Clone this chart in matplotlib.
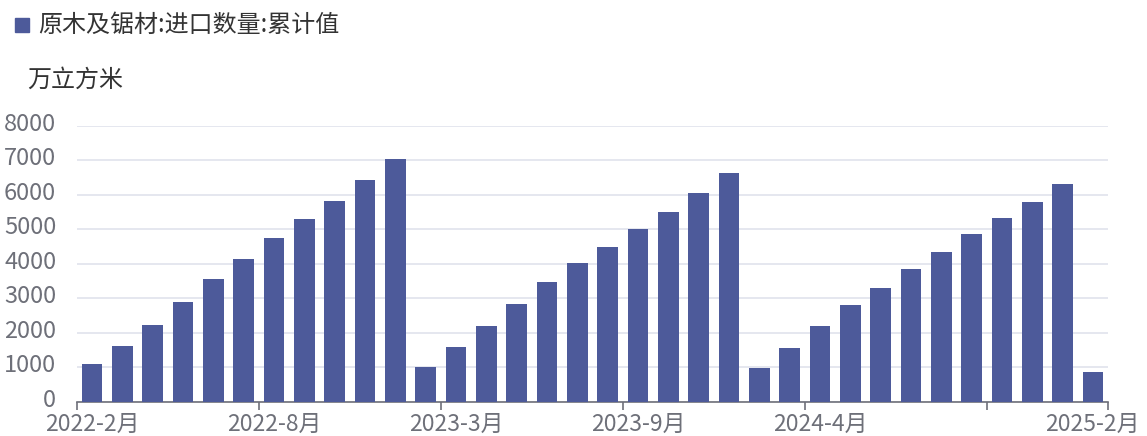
import numpy as np
import matplotlib.pyplot as plt
from matplotlib.transforms import ScaledTranslation

plt.rcParams['font.family'] = ['Noto Sans CJK SC', 'DejaVu Sans']

# 月份 (1-2月合并)
months = (
    [f"2022-{m}月" for m in range(2, 13)]
    + [f"2023-{m}月" for m in range(2, 13)]
    + [f"2024-{m}月" for m in range(2, 13)]
    + ["2025-2月"]
)
values_2022 = [1100, 1630, 2225, 2890, 3550, 4130, 4740, 5300, 5830, 6430, 7040]
values_2023 = [1010, 1590, 2200, 2845, 3480, 4015, 4495, 5000, 5510, 6045, 6620]
values_2024 = [975, 1570, 2205, 2805, 3290, 3840, 4350, 4855, 5335, 5800, 6310]
values_2025 = [855]
values = values_2022 + values_2023 + values_2024 + values_2025

series_name = "原木及锯材:进口数量:累计值"
unit = "万立方米"
label_idx = [0, 6, 12, 18, 24, 33]
tick_idx = [0, 6, 12, 18, 24, 30, 34]

bar_color = "#4d5a9a"
axis_color = "#6e7079"

fig = plt.figure(figsize=(11.47, 4.36), dpi=100)
ax = fig.add_axes([0.0671, 0.0784, 0.8989, 0.6333])

x = np.arange(len(values))
ax.bar(x, values, width=0.68, color=bar_color, zorder=3)

ax.set_xlim(-0.5, len(values) - 0.5)
ax.set_ylim(0, 8000)
ax.set_yticks(np.arange(0, 8001, 1000))
ax.grid(axis='y', color='#e0e3ec', linewidth=1.2, zorder=0)
ax.tick_params(axis='y', length=0, labelsize=17, labelcolor=axis_color, pad=15)
# y 标签略微上移, 避免和 x 标签相碰
up = ScaledTranslation(0, 4 / 100, fig.dpi_scale_trans)
for lab in ax.get_yticklabels():
    lab.set_transform(lab.get_transform() + up)

# 刻度在类目边界, 标签在柱子中心
ax.set_xticks([i - 0.5 for i in tick_idx])
ax.set_xticklabels([])
ax.tick_params(axis='x', length=6, width=1.2, color=axis_color)
ax.set_xticks(label_idx, minor=True)
ax.set_xticklabels([months[i] for i in label_idx], minor=True)
ax.tick_params(axis='x', which='minor', length=0, labelsize=16.5,
               labelcolor=axis_color, pad=8)

for s in ['top', 'right', 'left']:
    ax.spines[s].set_visible(False)
ax.spines['bottom'].set_color(axis_color)
ax.spines['bottom'].set_linewidth(1.2)

# 图例
fig.patches.append(plt.Rectangle((15 / 1147, 1 - 32 / 436), 14 / 1147, 14 / 436,
                                 transform=fig.transFigure, color=bar_color))
fig.text(38 / 1147, 1 - 25 / 436, series_name, fontsize=17.3, color='#333333',
         va='center', ha='left')
fig.text(27 / 1147, 1 - 80 / 436, unit, fontsize=17.3, color='#333333',
         va='center', ha='left')

fig.savefig('out.png', dpi=100)
